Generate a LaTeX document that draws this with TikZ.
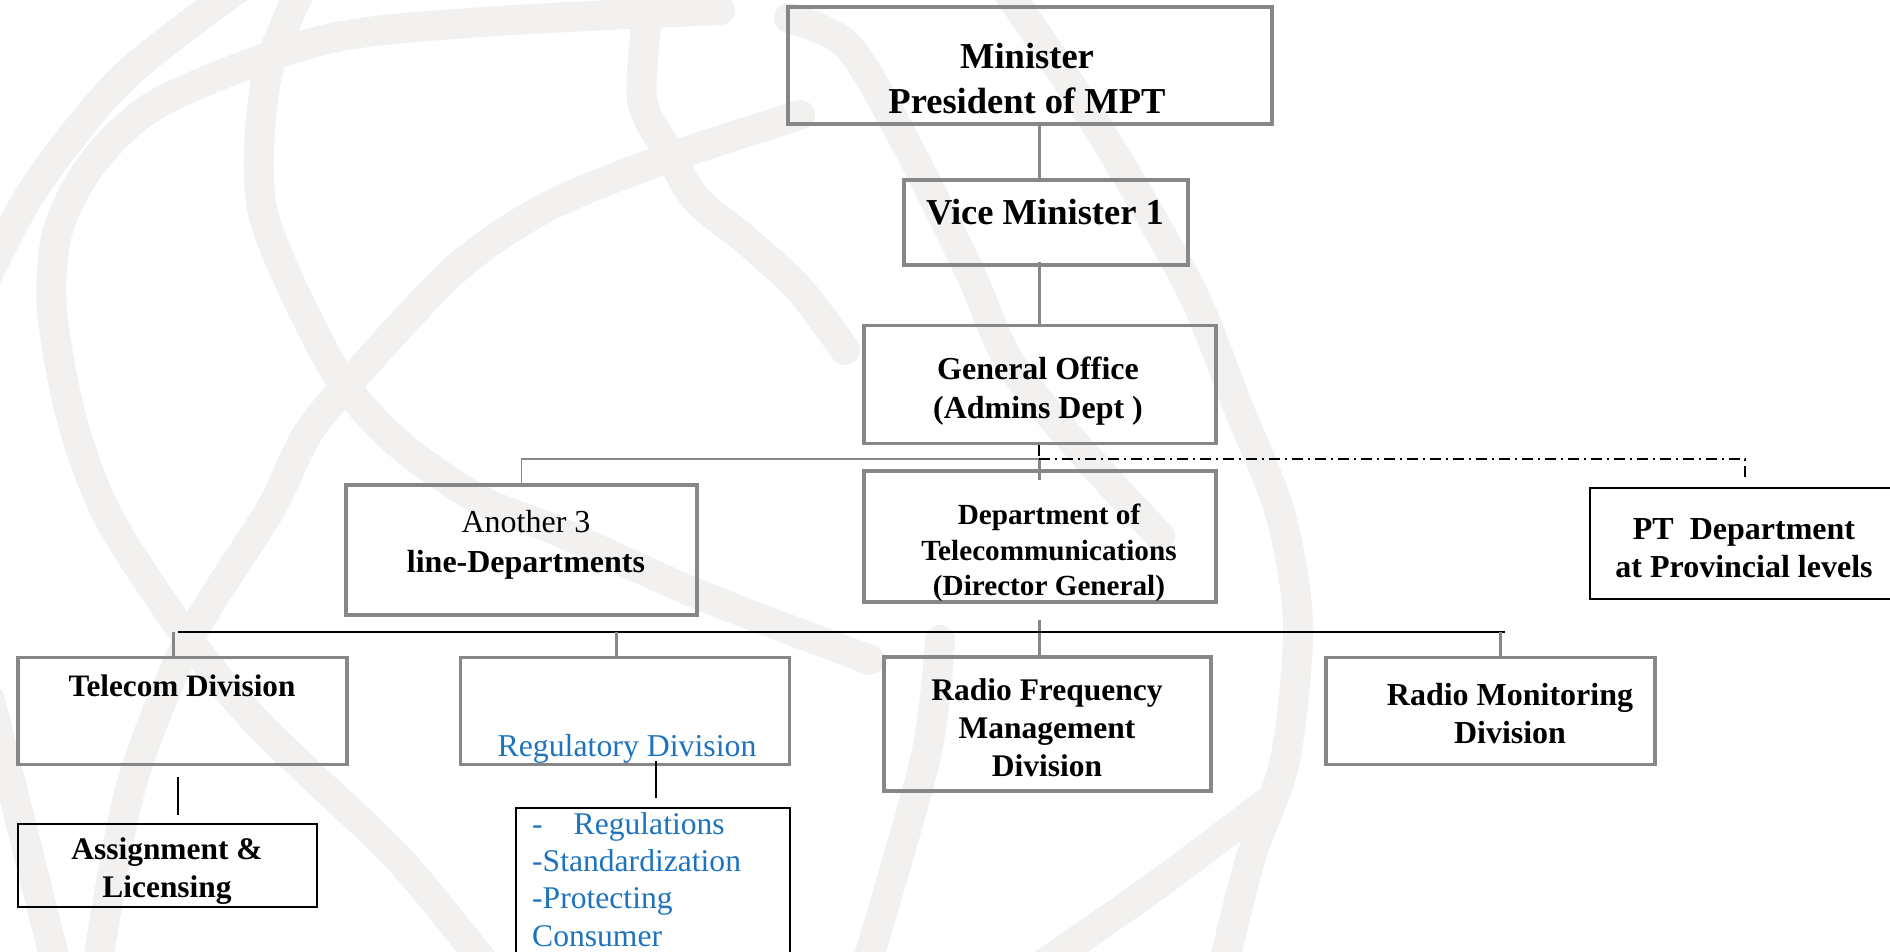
\documentclass[tikz,border=0pt]{standalone}
\usepackage{fontspec}
\setmainfont{Liberation Serif}[BoldFont={Liberation Serif Bold},ItalicFont={Liberation Serif Italic}]
\usetikzlibrary{calc}
\definecolor{boxgray}{HTML}{878787}
\definecolor{regblue}{HTML}{1E73BE}
\definecolor{wm}{HTML}{F2F1EF}
\newcommand\fsz[2]{\fontsize{#1pt}{#2pt}\selectfont}
\tikzset{
  wmark/.style={draw=wm, line width=30pt, line cap=round},
  gbox/.style={draw=boxgray, line width=3.5pt, inner sep=0pt, rectangle},
  kbox/.style={draw=black, line width=2pt, inner sep=0pt, rectangle},
  gline/.style={draw=boxgray, line width=3pt},
  gthin/.style={draw=boxgray, line width=1.8pt},
  kline/.style={draw=black, line width=2.5pt},
  kthin/.style={draw=black, line width=1.5pt},
  ddash/.style={draw=black, line width=1.5pt, dash pattern=on 11pt off 5pt on 2pt off 5pt},
  txt/.style={inner sep=0pt, align=center}
}
\begin{document}
\begin{tikzpicture}[x=1pt,y=-1pt]
\clip (0,0) rectangle (1890,951);
% watermark bands
\begin{scope}
\draw[wmark] plot[smooth] coordinates {(250,-20) (124,77) (35,187) (-20,290)};
\draw[wmark] plot[smooth] coordinates {(720,10) (483,22) (323,40) (164,100) (95,160) (58,230) (52,310) (72,420) (110,520) (189,640) (250,715) (311,775) (400,860) (490,970)};
\draw[wmark] plot[smooth] coordinates {(305,-20) (269,67) (259,150) (264,217) (298,300) (343,383) (400,445) (480,500) (555,530) (700,595) (870,660)};
\draw[wmark] plot[smooth] coordinates {(800,115) (662,160) (547,207) (458,267) (363,367) (308,433) (270,510) (189,640) (130,790) (95,980)};
\draw[wmark] plot[smooth] coordinates {(647,20) (642,100) (667,150) (697,200) (746,240) (800,290) (845,350)};
\draw[wmark] plot[smooth] coordinates {(789,18) (847,45) (901,134) (968,268) (1012,366) (1093,464) (1160,536)};
\draw[wmark] plot[smooth] coordinates {(1000,-20) (1102,134) (1191,290) (1236,402) (1280,513) (1298,625) (1285,760) (1250,860) (1220,980)};
\draw[wmark] plot[smooth] coordinates {(1270,800) (1150,890) (1020,980)};
\draw[wmark] plot[smooth] coordinates {(940,640) (925,760) (862,980)};
\draw[wmark] plot[smooth] coordinates {(-10,700) (25,840) (60,980)};
\end{scope}

% boxes
\node[gbox, minimum width=484pt, minimum height=117pt] (min) at (1030,65.5) {};
\node[gbox, minimum width=284pt, minimum height=85pt] (vice) at (1046,222.5) {};
\node[gbox, minimum width=352pt, minimum height=118pt] (gen) at (1040,384.5) {};
\node[gbox, minimum width=351pt, minimum height=130pt] (oth) at (521.5,550) {};
\node[gbox, minimum width=352pt, minimum height=131pt] (dept) at (1040,536.5) {};
\node[kbox, minimum width=310pt, minimum height=111pt] (pt) at (1745,543) {};
\node[gbox, minimum width=329pt, minimum height=107pt] (tel) at (182.5,711) {};
\node[gbox, minimum width=329pt, minimum height=107pt] (reg) at (625,711) {};
\node[gbox, minimum width=327pt, minimum height=134pt] (rf) at (1047.5,724) {};
\node[gbox, minimum width=329pt, minimum height=107pt] (rm) at (1490.5,711) {};
\node[kbox, minimum width=299pt, minimum height=83pt] (asg) at (167.5,865) {};
\node[kbox, minimum width=274pt, minimum height=200pt] (regs) at (653,908) {};

% texts
\node[txt, font=\bfseries\fsz{36.5}{45}] (minT) at (1027,79) {Minister\\President of MPT};
\node[txt, font=\bfseries\fsz{36.5}{45}] (viceT) at (1045,212) {Vice Minister 1};
\node[txt, font=\bfseries\fsz{32}{38.5}] (genT) at (1038,391) {General Office\\(Admins Dept )};
\node[txt, font=\fsz{32}{40}] (othT) at (526,545) {Another 3\\\textbf{line-Departments}};
\node[txt, font=\bfseries\fsz{29.2}{35.5}] (deptT) at (1049,553) {Department of\\Telecommunications\\(Director General)};
\node[txt, font=\bfseries\fsz{32}{38.5}] (ptT) at (1744,548) {PT\ \ Department\\at Provincial levels};
\node[txt, font=\bfseries\fsz{31.2}{38}] (telT) at (182,686) {Telecom Division};
\node[txt, font=\fsz{31.8}{38}, text=regblue] (regT) at (627,749) {Regulatory Division};
\node[txt, font=\bfseries\fsz{31.5}{38}] (rfT) at (1047,728) {Radio Frequency\\Management\\Division};
\node[txt, font=\bfseries\fsz{32}{38}] (rmT) at (1510,714) {Radio Monitoring\\Division};
\node[txt, font=\bfseries\fsz{31.4}{38}] (asgT) at (167,871) {Assignment \&\\Licensing};
\node[txt, align=left, anchor=north west, font=\fsz{31.6}{37.3}, text=regblue] (regsT) at (532,812) {-\hspace{31pt}Regulations\\-Standardization\\-Protecting\\Consumer};

% connector coordinates
\coordinate (sp) at (1039,0);
\coordinate (j1) at (1039,459);
\coordinate (busL) at (178,632);
\coordinate (busR) at (1505,632);
\coordinate (bTel) at (173,632);
\coordinate (bReg) at (616,632);
\coordinate (bRM) at (1500,632);
\coordinate (xa) at (178,0);
\coordinate (xr) at (656,0);

% connectors
\draw[gline] (min.south -| sp) -- (vice.north -| sp);
\draw[gline] ($(vice.south -| sp)+(0,-5)$) -- (gen.north -| sp);
\draw[ddash] (gen.south -| sp) -- (j1);
\draw[gline] (j1) -- ($(dept.north -| sp)+(0,11)$);
\draw[gthin] (j1) -- (j1 -| oth.north) -- (oth.north);
\draw[ddash] (j1) -- (j1 -| pt.north) -- ($(pt.north)+(0,-10)$);
\draw[gline] ($(dept.south -| sp)+(0,16)$) -- (rf.north -| sp);
\draw[kline] (busL) -- (busR);
\draw[gline] (bTel) -- (tel.north -| bTel);
\draw[gline] (bReg) -- (reg.north -| bReg);
\draw[gline] (bRM) -- (rm.north -| bRM);
\draw[kthin] ($(tel.south -| xa)+(0,11)$) -- ($(asg.north -| xa)+(0,-8)$);
\draw[kthin] ($(reg.south -| xr)+(0,-5)$) -- ($(regs.north -| xr)+(0,-9)$);
\end{tikzpicture}
\end{document}
